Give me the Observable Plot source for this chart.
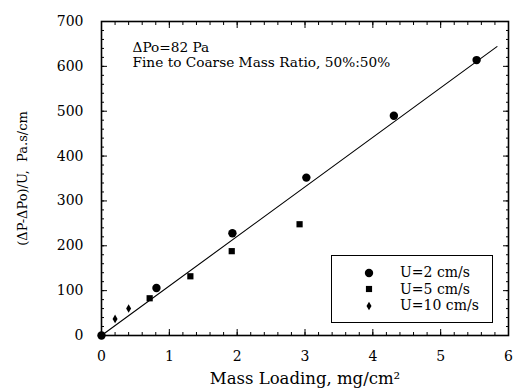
<!DOCTYPE html>
<html>
<head>
<meta charset="utf-8">
<script src="https://cdn.jsdelivr.net/npm/d3@7"></script>
<script src="https://cdn.jsdelivr.net/npm/@observablehq/plot@0.6"></script>
<style>
  html, body { margin: 0; padding: 0; background: #fff; }
  #wrap { position: relative; width: 515px; height: 391px; }
  #legend { position: absolute; left: 331px; top: 255px; width: 160px; height: 66px;
    border: 1px solid #000; background: #fff; font-family: "DejaVu Serif", serif; font-size: 14px; }
  .row { position: absolute; left: 0; height: 17px; width: 160px; }
  .row svg { position: absolute; left: 31px; top: 2.5px; }
  .row span { position: absolute; left: 68px; top: 0; line-height: 17px; white-space: nowrap; }
</style>
</head>
<body>
<div id="wrap"></div>
<script>
// Data
const u2x = [0, 0.81, 1.93, 3.02, 4.31, 5.53];
const u2y = [0, 106, 228, 352, 490, 614];
const u5x = [0.71, 1.31, 1.92, 2.92];
const u5y = [83, 132, 188, 248];
const u10x = [0.2, 0.4];
const u10y = [37, 60];
const fitX = [0, 5.83];
const fitY = [0, 644];
const xTicks = [0, 1, 2, 3, 4, 5, 6];
const yTicks = [0, 100, 200, 300, 400, 500, 600, 700];
const seriesLabels = ["U=2 cm/s", "U=5 cm/s", "U=10 cm/s"];
const note1 = "\u0394Po=82 Pa";
const note2 = "Fine to Coarse Mass Ratio, 50%:50%";
const xLabel = "Mass Loading, mg/cm\u00B2";
const yLabel = "(\u0394P-\u0394Po)/U,  Pa.s/cm";

const toRows = (xs, ys) => xs.map((x, i) => ({x, y: ys[i]}));
const xMinor = d3.range(0, 6.001, 0.2);
const yMinor = d3.range(0, 700.001, 20);
const fmt = d => String(d);

const font = "DejaVu Serif, serif";

const chart = Plot.plot({
  width: 515,
  height: 391,
  marginLeft: 101,
  marginRight: 7,
  marginTop: 21,
  marginBottom: 56,
  style: {fontFamily: font, fontSize: "14px", background: "#fff", color: "#000", overflow: "visible"},
  x: {domain: [0, 6]},
  y: {domain: [0, 700]},
  marks: [
    Plot.frame({stroke: "#000", strokeWidth: 1.6}),
    // minor ticks
    Plot.axisX({ticks: xMinor, tickSize: -3, text: null, anchor: "bottom", label: null}),
    Plot.axisX({ticks: xMinor, tickSize: -3, text: null, anchor: "top", label: null}),
    Plot.axisY({ticks: yMinor, tickSize: -3, text: null, anchor: "left", label: null}),
    Plot.axisY({ticks: yMinor, tickSize: -3, text: null, anchor: "right", label: null}),
    // major ticks
    Plot.axisX({ticks: xTicks, tickSize: -6, text: null, anchor: "bottom", label: null}),
    Plot.axisX({ticks: xTicks, tickSize: -6, text: null, anchor: "top", label: null}),
    Plot.axisY({ticks: yTicks, tickSize: -6, text: null, anchor: "left", label: null}),
    Plot.axisY({ticks: yTicks, tickSize: -6, text: null, anchor: "right", label: null}),
    // tick labels
    Plot.axisX({ticks: xTicks, tickSize: 0, tickPadding: 16, anchor: "bottom", label: null, fontSize: 14, tickFormat: fmt}),
    Plot.axisY({ticks: yTicks, tickSize: 0, tickPadding: 18, anchor: "left", label: null, fontSize: 14, tickFormat: fmt}),
    // axis labels
    Plot.text([xLabel], {frameAnchor: "bottom", dy: 43, lineAnchor: "middle", textAnchor: "middle", fontSize: 16.5, text: d => d}),
    Plot.text([yLabel], {frameAnchor: "left", dx: -79, dy: 0, rotate: -90, textAnchor: "middle", lineAnchor: "middle", fontSize: 13, text: d => d}),
    // annotations
    Plot.text([note1], {frameAnchor: "top-left", dx: 31, dy: 21, textAnchor: "start", fontSize: 13.7, text: d => d}),
    Plot.text([note2], {frameAnchor: "top-left", dx: 31, dy: 36, textAnchor: "start", fontSize: 13.7, text: d => d}),
    // fit line
    Plot.line(toRows(fitX, fitY), {x: "x", y: "y", stroke: "#000", strokeWidth: 1.1}),
    // data
    Plot.dot(toRows(u2x, u2y), {x: "x", y: "y", r: 4.2, fill: "#000", symbol: "circle"}),
    Plot.dot(toRows(u5x, u5y), {x: "x", y: "y", r: 3.5, fill: "#000", symbol: "square"}),
    Plot.dot(toRows(u10x, u10y), {x: "x", y: "y", r: 2.6, fill: "#000", symbol: "diamond"})
  ]
});

const wrap = document.getElementById("wrap");
wrap.appendChild(chart);

// legend
const legend = document.createElement("div");
legend.id = "legend";
const syms = [d3.symbolCircle, d3.symbolSquare, d3.symbolDiamond];
const sizes = [55, 38, 22];
seriesLabels.forEach((lab, i) => {
  const row = document.createElement("div");
  row.className = "row";
  row.style.top = (8 + i * 16.5) + "px";
  const s = d3.create("svg").attr("width", 12).attr("height", 12);
  s.append("path").attr("transform", "translate(6,6)")
    .attr("d", d3.symbol(syms[i], sizes[i])()).attr("fill", "#000");
  row.appendChild(s.node());
  const t = document.createElement("span");
  t.textContent = lab;
  row.appendChild(t);
  legend.appendChild(row);
});
wrap.appendChild(legend);
</script>
</body>
</html>
